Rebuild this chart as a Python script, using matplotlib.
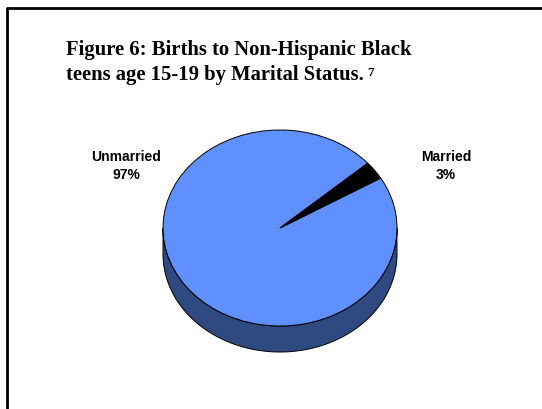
import numpy as np
import matplotlib.pyplot as plt
from matplotlib.patches import Wedge, Polygon

# data
labels = ["Unmarried", "Married"]
values = [97, 3]
colors = ["#6090FF", "#000000"]
side_color = "#2F4A80"

title_lines = ["Figure 6: Births to Non-Hispanic Black",
               "teens age 15-19 by Marital Status."]

W, H = 542, 410
fig = plt.figure(figsize=(W / 100, H / 100), dpi=100)

# background axes in pixel coords for frame and text
bg = fig.add_axes([0, 0, 1, 1])
bg.set_xlim(0, W)
bg.set_ylim(H, 0)
bg.axis("off")
bg.plot([7, 7, W + 5], [H + 5, 9, 9], color="black", lw=2, solid_capstyle="butt")

bg.text(66, 55, title_lines[0], fontfamily="Liberation Serif", fontweight="bold",
        fontsize=14.9, va="baseline", ha="left")
t2 = bg.text(66, 80, title_lines[1], fontfamily="Liberation Serif", fontweight="bold",
             fontsize=14.9, va="baseline", ha="left")

# superscript right after the second title line
fig.canvas.draw()
bb = t2.get_window_extent()
sx = bg.transData.inverted().transform((bb.x1, bb.y0))[0]
bg.text(sx + 3, 76, "7", fontfamily="Liberation Serif", fontweight="bold",
        fontsize=9.5, va="baseline", ha="left")

# pie axes: unit circle -> ellipse rx=117, ry=98 px, centre (280, 229)
cx, cy, rx, ry = 280, 229, 117, 98
x0, x1, y0, y1 = -1.2, 1.2, -1.5, 1.2
left = (cx + x0 * rx) / W
bottom = (H - (cy - y0 * ry)) / H
ax = fig.add_axes([left, bottom, (x1 - x0) * rx / W, (y1 - y0) * ry / H])
ax.set_xlim(x0, x1)
ax.set_ylim(y0, y1)
ax.axis("off")

depth = 26 / ry
t = np.linspace(np.pi, 2 * np.pi, 200)
top = np.column_stack([np.cos(t), np.sin(t)])
low = np.column_stack([np.cos(t[::-1]), np.sin(t[::-1]) - depth])
ax.add_patch(Polygon(np.vstack([top, low]), closed=True, facecolor=side_color,
                     edgecolor="black", lw=0.7))

total = sum(values)
mid_married = 36.0
start = mid_married + values[1] / total * 180
angles = [start]
for v in values:
    angles.append(angles[-1] + v / total * 360)
for i, (lab, c) in enumerate(zip(labels, colors)):
    ax.add_patch(Wedge((0, 0), 1, angles[i], angles[i + 1], facecolor=c,
                       edgecolor="black", lw=0.7))

label_pos = [(126, 157), (446, 157)]
for lab, v, (lx, ly) in zip(labels, values, label_pos):
    bg.text(lx, ly, lab, fontfamily="Liberation Sans", fontweight="bold",
            fontsize=10, ha="center", va="center")
    bg.text(lx, ly + 18, f"{v}%", fontfamily="Liberation Sans", fontweight="bold",
            fontsize=10, ha="center", va="center")

fig.savefig("out.png", dpi=100)
